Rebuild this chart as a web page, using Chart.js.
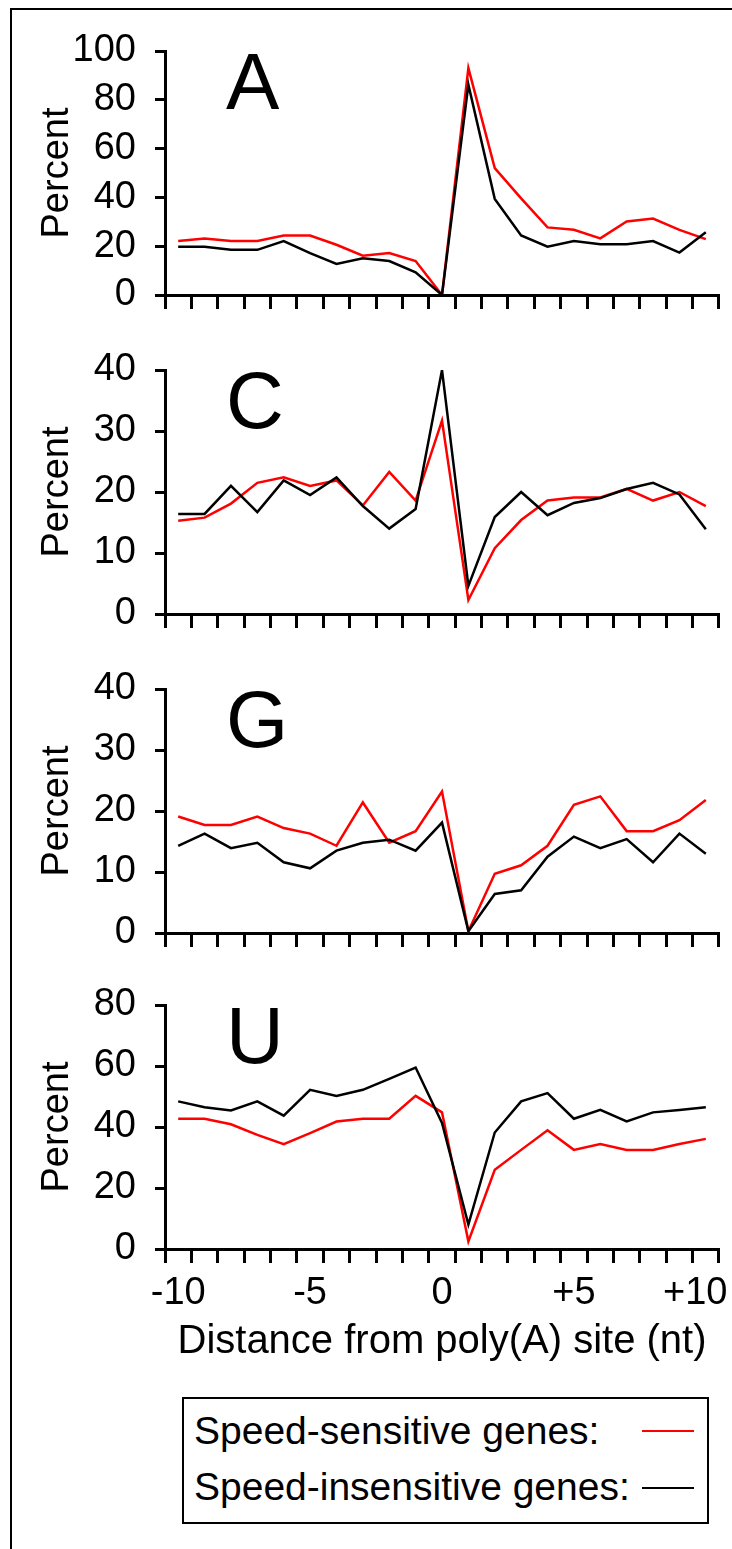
<!DOCTYPE html>
<html>
<head>
<meta charset="utf-8">
<script src="https://cdn.jsdelivr.net/npm/chart.js@4.4.1/dist/chart.umd.min.js"></script>
<style>
  body { margin: 0; background: #fff; width: 732px; height: 1549px; overflow: hidden; position: relative;
         font-family: "Liberation Sans", Arial, sans-serif; color: #000; }
  #frame { position: absolute; left: 10px; top: 8px; right: -20px; bottom: -20px;
           border-left: 2px solid #000; border-top: 2px solid #000; }
  canvas { position: absolute; left: 0; }
  .tag { position: absolute; left: 226px; font-size: 80px; line-height: 80px; }
  #legend { position: absolute; left: 182px; top: 1397px; width: 527px; height: 127px;
            border: 2px solid #000; box-sizing: border-box; }
  .row { position: absolute; left: 194px; font-size: 39px; line-height: 46px; white-space: nowrap; }
  .swatch { position: absolute; left: 642px; width: 52px; height: 2px; }
</style>
</head>
<body>
<div id="frame"></div>
<canvas id="p0" width="732" height="314"></canvas>
<canvas id="p1" width="732" height="314"></canvas>
<canvas id="p2" width="732" height="314"></canvas>
<canvas id="p3" width="732" height="391"></canvas>
<div id="legend"></div>
<script>
const POSITIONS = ["-10", "-9", "-8", "-7", "-6", "-5", "-4", "-3", "-2", "-1", "0",
                   "+1", "+2", "+3", "+4", "+5", "+6", "+7", "+8", "+9", "+10"];
const AXIS_LABELS = ["-10", "-5", "0", "+5", "+10"];
const PANELS = ["A", "C", "G", "U"];
const SERIES = ["Speed-sensitive genes:", "Speed-insensitive genes:"];
const Y_MAX = [100, 40, 40, 80];
const Y_STEP = [20, 10, 10, 20];

const A_SENSITIVE = [22.1, 23.2, 22.1, 22.1, 24.4, 24.4, 20.6, 16.1, 17.2, 13.9, 0,
                     93, 52, 39.6, 27.7, 26.7, 23.2, 30.1, 31.3, 26.7, 22.9];
const A_INSENSITIVE = [19.8, 19.8, 18.5, 18.5, 22.1, 17.2, 12.7, 15.1, 13.9, 9.3, 0,
                       86.2, 39.4, 24.4, 19.8, 22.1, 20.8, 20.8, 22.1, 17.4, 25.7];
const C_SENSITIVE = [15.3, 15.8, 18.1, 21.5, 22.4, 21.0, 21.9, 17.8, 23.3, 18.6, 31.7,
                     2.3, 10.8, 15.4, 18.6, 19.1, 19.1, 20.5, 18.6, 20.0, 17.7];
const C_INSENSITIVE = [16.4, 16.4, 21.0, 16.7, 21.9, 19.5, 22.4, 17.7, 14.0, 17.2, 40,
                       4.6, 15.9, 20.0, 16.2, 18.2, 19.0, 20.5, 21.5, 19.6, 13.9];
const G_SENSITIVE = [19.1, 17.7, 17.7, 19.1, 17.2, 16.3, 14.3, 21.4, 14.8, 16.7, 23.2,
                     0.3, 9.7, 11.1, 14.3, 21.0, 22.4, 16.7, 16.7, 18.5, 21.8];
const G_INSENSITIVE = [14.3, 16.3, 13.9, 14.8, 11.6, 10.6, 13.5, 14.8, 15.3, 13.5, 18.1,
                       0.3, 6.4, 7.0, 12.5, 15.8, 13.9, 15.4, 11.6, 16.3, 13.0];
const U_SENSITIVE = [42.7, 42.7, 40.9, 37.4, 34.4, 38.0, 41.8, 42.7, 42.7, 50.2, 44.8,
                     2.5, 26.0, 32.5, 38.9, 32.5, 34.4, 32.5, 32.5, 34.4, 36.1];
const U_INSENSITIVE = [48.4, 46.5, 45.4, 48.4, 43.7, 52.2, 50.2, 52.2, 55.8, 59.5, 41.3,
                       8.0, 38.2, 48.4, 51.1, 42.7, 45.6, 41.8, 44.8, 45.6, 46.5];

const SENSITIVE = [A_SENSITIVE, C_SENSITIVE, G_SENSITIVE, U_SENSITIVE];
const INSENSITIVE = [A_INSENSITIVE, C_INSENSITIVE, G_INSENSITIVE, U_INSENSITIVE];
const COLORS = ["#ff0000", "#000000"];

// layout of each panel: top of plot area in page pixels
const PLOT_TOP = [51, 370, 689, 1005];
const PAD_TOP = 30;
const FONT = { family: "'Liberation Sans', Arial, sans-serif", size: 38 };
const TITLE_FONT = { family: FONT.family, size: 40 };

Chart.defaults.font.family = FONT.family;
Chart.defaults.color = "#000";

function makePanel(i) {
  const last = i === PANELS.length - 1;
  const canvas = document.getElementById("p" + i);
  canvas.style.top = (PLOT_TOP[i] - PAD_TOP) + "px";

  new Chart(canvas, {
    type: "line",
    data: {
      labels: POSITIONS,
      datasets: [
        { label: SERIES[1], data: INSENSITIVE[i], borderColor: COLORS[1], borderWidth: 2.5, pointRadius: 0, tension: 0 },
        { label: SERIES[0], data: SENSITIVE[i], borderColor: COLORS[0], borderWidth: 2.5, pointRadius: 0, tension: 0 },
      ],
    },
    options: {
      responsive: false,
      animation: false,
      devicePixelRatio: 1,
      layout: { padding: { top: PAD_TOP, right: 13, bottom: 0, left: 0 } },
      plugins: { legend: { display: false }, tooltip: { enabled: false } },
      scales: {
        x: {
          type: "category",
          offset: true,
          border: { display: true, color: "#000", width: 3 },
          grid: { offset: true, drawOnChartArea: false, tickLength: 14, tickWidth: 3, tickColor: "#000" },
          ticks: {
            display: last,
            autoSkip: false,
            maxRotation: 0,
            padding: 8,
            font: FONT,
            callback: (v, idx) => {
              const l = POSITIONS[idx];
              if (!AXIS_LABELS.includes(l)) return "";
              return l === "+10" ? l + "\u00a0\u00a0" : l;
            },
          },
          title: { display: last, text: "Distance from poly(A) site (nt)", font: TITLE_FONT, padding: 0 },
          afterFit: (s) => { s.height = last ? 117 : 40; s.paddingLeft = 0; s.paddingRight = 0; },
        },
        y: {
          min: 0,
          max: Y_MAX[i],
          border: { display: true, color: "#000", width: 3 },
          grid: { drawOnChartArea: false, tickLength: 10, tickWidth: 3, tickColor: "#000" },
          ticks: { stepSize: Y_STEP[i], padding: 19, font: FONT },
          title: { display: true, text: "Percent", font: FONT, padding: { top: 35, bottom: 0 } },
          afterFit: (s) => { s.width = 165; s.paddingTop = 0; s.paddingBottom = 0; },
        },
      },
    },
  });

  const tag = document.createElement("div");
  tag.className = "tag";
  tag.textContent = PANELS[i];
  tag.style.top = (PLOT_TOP[i] - 9) + "px";
  document.body.appendChild(tag);
}

PANELS.forEach((_, i) => makePanel(i));

// legend box
const ROW_TOP = [1408, 1464];
const SWATCH_Y = [1431, 1488];
SERIES.forEach((name, k) => {
  const row = document.createElement("div");
  row.className = "row";
  row.style.top = ROW_TOP[k] + "px";
  row.textContent = name;
  document.body.appendChild(row);
  const sw = document.createElement("div");
  sw.className = "swatch";
  sw.style.top = (SWATCH_Y[k] - 1) + "px";
  sw.style.background = COLORS[k];
  document.body.appendChild(sw);
});
</script>
</body>
</html>
